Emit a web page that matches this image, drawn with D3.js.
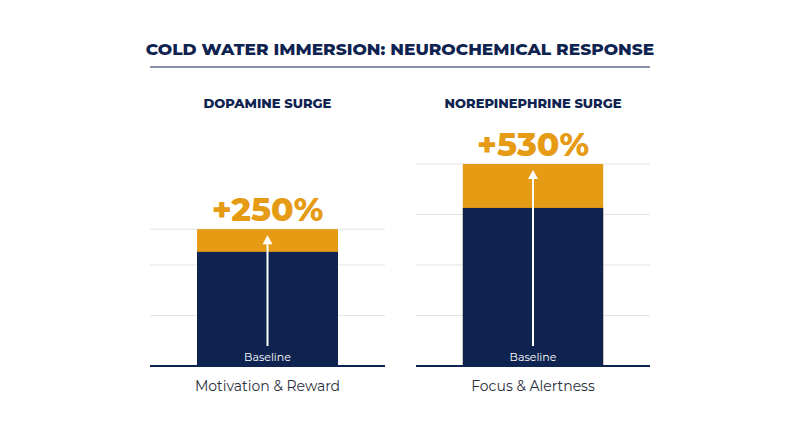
<!DOCTYPE html>
<html><head><meta charset="utf-8">
<script src="https://cdn.jsdelivr.net/npm/d3@7"></script>
<style>body{margin:0;background:#fff}</style>
</head><body>
<svg width="800" height="447"></svg>
<script>
var width = 800, height = 447;
var navy = "#0e2350", orange = "#e59b14";

// data
var panels = ["DOPAMINE SURGE", "NOREPINEPHRINE SURGE"];
var categories = ["Motivation & Reward", "Focus & Alertness"];
var baselineVals = [2.26, 3.13];
var peakVals = [2.71, 4.0];
var pctLabels = ["+250%", "+530%"];
var gridTicks = [[1, 2], [1, 2, 3]];

var svg = d3.select("svg");
var font = "Montserrat, 'Open Sans', 'Noto Sans', sans-serif";

svg.append("text").attr("x", 400).attr("y", 55).attr("text-anchor", "middle")
    .attr("font-family", font).attr("font-weight", 800).attr("font-size", 17)
    .attr("fill", navy).text("COLD WATER IMMERSION: NEUROCHEMICAL RESPONSE");
svg.append("line").attr("x1", 150).attr("x2", 650).attr("y1", 67).attr("y2", 67)
    .attr("stroke", navy).attr("stroke-width", 1);

var y = d3.scaleLinear().domain([0, 4]).range([366, 164]);
var panelX = [[150, 385], [416, 650]];

panels.forEach(function(name, i) {
  var x0 = panelX[i][0], x1 = panelX[i][1];
  var x = d3.scaleBand().domain([categories[i]]).range([x0, x1]).padding(0.25);
  var g = svg.append("g");
  var cx = x(categories[i]) + x.bandwidth() / 2;

  g.append("text").attr("x", cx).attr("y", 108).attr("text-anchor", "middle")
    .attr("font-family", font).attr("font-weight", 800).attr("font-size", 13)
    .attr("fill", navy).text(name);

  g.selectAll("line.grid").data(gridTicks[i].concat([peakVals[i]])).enter().append("line")
    .attr("x1", x0).attr("x2", x1).attr("y1", d => y(d)).attr("y2", d => y(d))
    .attr("stroke", "#e3e3e3").attr("stroke-width", 1);

  g.append("rect").attr("x", x(categories[i])).attr("width", x.bandwidth())
    .attr("y", y(peakVals[i])).attr("height", y(0) - y(peakVals[i])).attr("fill", orange);
  g.append("rect").attr("x", x(categories[i])).attr("width", x.bandwidth())
    .attr("y", y(baselineVals[i])).attr("height", y(0) - y(baselineVals[i])).attr("fill", navy);

  g.append("line").attr("x1", x0).attr("x2", x1).attr("y1", y(0)).attr("y2", y(0))
    .attr("stroke", navy).attr("stroke-width", 2);

  var top = y(peakVals[i]) + 6;
  g.append("line").attr("x1", cx).attr("x2", cx).attr("y1", 346).attr("y2", top + 6)
    .attr("stroke", "#fff").attr("stroke-width", 2);
  g.append("path").attr("d", "M" + (cx - 5) + "," + (top + 9) + "L" + cx + "," + top + "L" + (cx + 5) + "," + (top + 9) + "Z")
    .attr("fill", "#fff");

  g.append("text").attr("x", cx).attr("y", 361).attr("text-anchor", "middle")
    .attr("font-family", font).attr("font-size", 11).attr("fill", "#fff").text("Baseline");

  g.append("text").attr("x", cx).attr("y", y(peakVals[i]) - 8).attr("text-anchor", "middle")
    .attr("font-family", font).attr("font-weight", 800).attr("font-size", 33)
    .attr("fill", orange).text(pctLabels[i]);

  g.append("text").attr("x", cx).attr("y", 391).attr("text-anchor", "middle")
    .attr("font-family", font).attr("font-size", 14).attr("fill", "#2a2f3d").text(categories[i]);
});
</script>
</body></html>
